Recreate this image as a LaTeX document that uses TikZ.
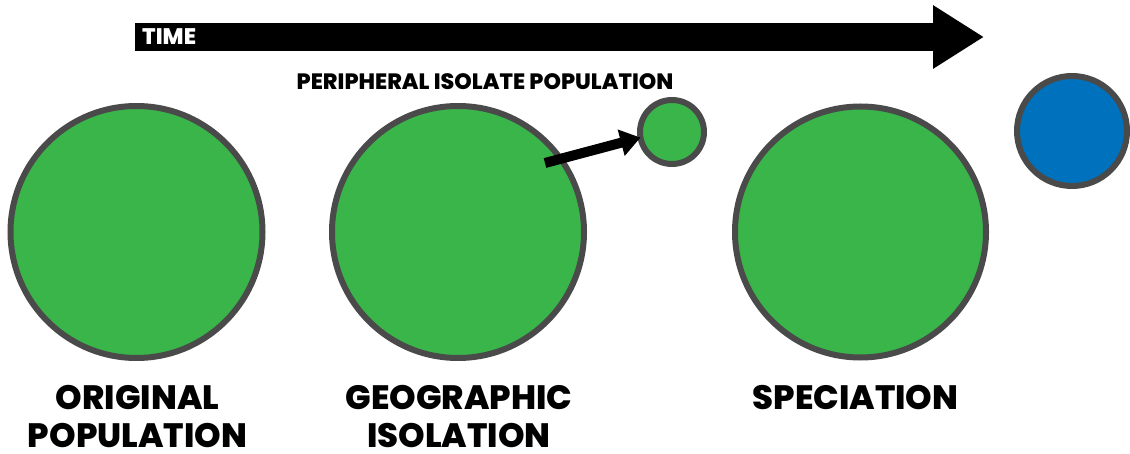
\documentclass[tikz,border=0pt]{standalone}
\usepackage{fontspec}
\setmainfont{Poppins}
\newfontfamily\heavyfont{Poppins ExtraBold}
\usetikzlibrary{arrows.meta, calc}

\definecolor{popgreen}{HTML}{39B54A}
\definecolor{popblue}{HTML}{0071BC}
\definecolor{rimgray}{HTML}{4A4A4A}

\begin{document}
\begin{tikzpicture}[
  x=1pt, y=-1pt,
  pop/.style={
    circle,
    draw=rimgray,
    line width=6pt,
    fill=popgreen,
    inner sep=0pt,
    outer sep=0pt,
    minimum size=#1
  },
  caption/.style={
    font=\fontsize{33.8}{38}\selectfont\heavyfont,
    align=center,
    anchor=north,
    text depth=0pt,
    inner sep=0pt
  }
]

\useasboundingbox (0,0) rectangle (1130,454);

% --- Time arrow ---
\coordinate (tstart) at (135,37);
\coordinate (tend)   at (984,37);
\draw[line width=28pt, -{Triangle[length=51pt, width=60pt]}] (tstart) -- (tend);
\node[anchor=west, inner sep=0pt, text=white,
      font=\fontsize{22.5}{23}\selectfont\heavyfont] (time) at (142,37) {TIME};

% --- Populations (radius measured to path, rim = 6) ---
\node[pop=252pt] (orig) at (136.5,232) {};
\node[pop=252pt] (geo)  at (458,232)   {};
\node[pop=64pt]  (iso)  at (672,132)   {};
\node[pop=251pt] (spec) at (860.5,232) {};
\node[pop=110pt, fill=popblue] (newsp) at (1072,131) {};

% --- Isolate leaves the parent population ---
\coordinate (isotail) at (545,163);
\draw[line width=10pt, -{Triangle[length=20pt, width=26pt]}] (isotail) -- (iso.190);

\node[inner sep=0pt, font=\fontsize{22.2}{23}\selectfont\heavyfont]
  (isolabel) at (485,82) {PERIPHERAL ISOLATE POPULATION};

% --- Captions ---
\node[caption] (origlabel) at (137.5,385) {ORIGINAL\\POPULATION};
\node[caption] (geolabel)  at (459,385)   {GEOGRAPHIC\\ISOLATION};
\node[caption] (speclabel) at (855.5,385) {SPECIATION};

\end{tikzpicture}
\end{document}
